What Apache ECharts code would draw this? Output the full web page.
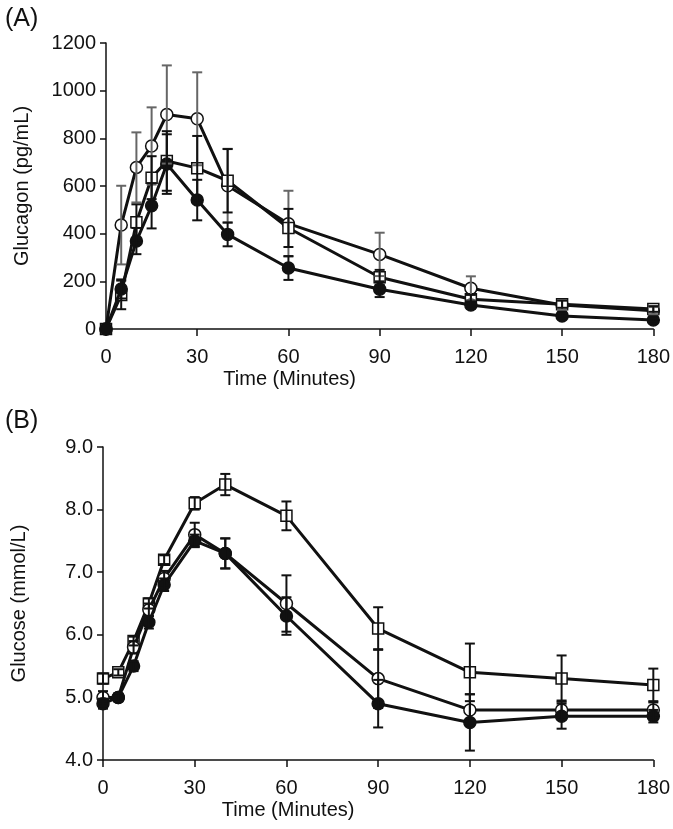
<!DOCTYPE html>
<html lang="en">
<head>
    <meta charset="UTF-8">
    <title>Glucagon and glucose</title>
    <script src="https://cdn.jsdelivr.net/npm/echarts@6/dist/echarts.min.js"></script>
    <style>
        html, body { margin: 0; padding: 0; background: #fff; }
    </style>
</head>
<body>
<div id="main" style="width: 673px;height:829px;"></div>
<script type="text/javascript">
    // time points (minutes)
    var minutes = [0, 5, 10, 15, 20, 30, 40, 60, 90, 120, 150, 180];

    // (A) glucagon, pg/mL
    var glucagonOpen = [0, 436, 678, 768, 900, 882, 601, 442, 313, 171, 101, 77];
    var glucagonOpenErr = [0, 165, 147, 162, 206, 195, 155, 138, 91, 50, 20, 15];
    var glucagonSquare = [0, 143, 448, 635, 705, 675, 622, 424, 217, 125, 104, 84];
    var glucagonSquareErr = [0, 60, 75, 90, 125, 135, 133, 80, 31, 18, 15, 12];
    var glucagonFilled = [0, 168, 369, 517, 692, 541, 397, 256, 167, 101, 55, 38];
    var glucagonFilledErr = [0, 40, 55, 95, 125, 85, 50, 50, 33, 15, 10, 8];

    // (B) glucose, mmol/L
    var glucoseOpen = [5.0, 5.0, 5.8, 6.4, 6.9, 7.6, 7.3, 6.5, 5.3, 4.8, 4.8, 4.8];
    var glucoseOpenErr = [0.1, 0.06, 0.1, 0.1, 0.12, 0.19, 0.24, 0.45, 0.47, 0.25, 0.15, 0.12];
    var glucoseSquare = [5.3, 5.4, 5.9, 6.5, 7.2, 8.1, 8.4, 7.9, 6.1, 5.4, 5.3, 5.2];
    var glucoseSquareErr = [0.08, 0.05, 0.07, 0.08, 0.07, 0.1, 0.17, 0.23, 0.34, 0.46, 0.37, 0.26];
    var glucoseFilled = [4.9, 5.0, 5.5, 6.2, 6.8, 7.5, 7.3, 6.3, 4.9, 4.6, 4.7, 4.7];
    var glucoseFilledErr = [0.08, 0.06, 0.08, 0.1, 0.1, 0.1, 0.24, 0.3, 0.38, 0.45, 0.2, 0.1];

    var font = 'Liberation Sans, Arial, sans-serif';
    var ink = '#111';

    function pairs(ys) {
        return minutes.map(function (t, i) { return [t, ys[i]]; });
    }

    function bars(ys, errs) {
        return minutes.map(function (t, i) { return [t, ys[i] - errs[i], ys[i] + errs[i]]; });
    }

    function lineSeries(ys, symbol, filled, idx, z) {
        return {
            type: 'line',
            xAxisIndex: idx,
            yAxisIndex: idx,
            data: pairs(ys),
            symbol: symbol,
            symbolSize: symbol === 'rect' ? 11 : 12,
            showAllSymbol: true,
            lineStyle: { color: ink, width: 3 },
            itemStyle: {
                color: filled ? ink : '#fff',
                borderColor: ink,
                borderWidth: 1.5
            },
            z: z,
            silent: true
        };
    }

    function errorSeries(ys, errs, idx, color) {
        return {
            type: 'custom',
            xAxisIndex: idx,
            yAxisIndex: idx,
            data: bars(ys, errs),
            encode: { x: 0, y: [1, 2] },
            z: 6,
            silent: true,
            renderItem: function (params, api) {
                var lo = api.coord([api.value(0), api.value(1)]);
                var hi = api.coord([api.value(0), api.value(2)]);
                var w = 5;
                var st = { stroke: color, lineWidth: 2 };
                return {
                    type: 'group',
                    children: [
                        { type: 'line', shape: { x1: hi[0], y1: hi[1], x2: lo[0], y2: lo[1] }, style: st },
                        { type: 'line', shape: { x1: hi[0] - w, y1: hi[1], x2: hi[0] + w, y2: hi[1] }, style: st },
                        { type: 'line', shape: { x1: lo[0] - w, y1: lo[1], x2: lo[0] + w, y2: lo[1] }, style: st }
                    ]
                };
            }
        };
    }

    function xAxis(idx) {
        return {
            type: 'value',
            gridIndex: idx,
            min: 0,
            max: 180,
            interval: 30,
            name: 'Time (Minutes)',
            nameLocation: 'middle',
            nameGap: 40,
            nameTextStyle: { fontFamily: font, fontSize: 20, color: ink, padding: [0, 180, 0, 0] },
            axisLine: { lineStyle: { color: ink, width: 1.5 } },
            axisTick: { inside: false, length: 7, lineStyle: { color: ink, width: 1.5 } },
            axisLabel: { fontFamily: font, fontSize: 20, color: ink, margin: 18 },
            splitLine: { show: false }
        };
    }

    function yAxis(idx, min, max, step, name, digits) {
        return {
            type: 'value',
            gridIndex: idx,
            min: min,
            max: max,
            interval: step,
            name: name,
            nameLocation: 'middle',
            nameGap: 74,
            nameTextStyle: { fontFamily: font, fontSize: 20, color: ink },
            axisLine: { show: true, lineStyle: { color: ink, width: 1.5 } },
            axisTick: { show: true, inside: false, length: 6, lineStyle: { color: ink, width: 1.5 } },
            axisLabel: {
                fontFamily: font, fontSize: 20, color: ink, margin: 10,
                formatter: function (v) { return v.toFixed(digits); }
            },
            splitLine: { show: false }
        };
    }

    var myChart = echarts.init(document.getElementById('main'));

    var option = {
        backgroundColor: '#fff',
        animation: false,
        title: [
            { text: '(A)', left: 0, top: 2, textStyle: { fontFamily: font, fontSize: 25, fontWeight: 'normal', color: ink } },
            { text: '(B)', left: 0, top: 404, textStyle: { fontFamily: font, fontSize: 25, fontWeight: 'normal', color: ink } }
        ],
        grid: [
            { left: 106, right: 18, top: 43, height: 286 },
            { left: 103, right: 19, top: 447, height: 313 }
        ],
        xAxis: [xAxis(0), xAxis(1)],
        yAxis: [
            yAxis(0, 0, 1200, 200, 'Glucagon (pg/mL)', 0),
            yAxis(1, 4, 9, 1, 'Glucose (mmol/L)', 1)
        ],
        series: [
            lineSeries(glucagonOpen, 'circle', false, 0, 3),
            lineSeries(glucagonSquare, 'rect', false, 0, 4),
            lineSeries(glucagonFilled, 'circle', true, 0, 5),
            errorSeries(glucagonOpen, glucagonOpenErr, 0, '#666'),
            errorSeries(glucagonSquare, glucagonSquareErr, 0, ink),
            errorSeries(glucagonFilled, glucagonFilledErr, 0, ink),

            lineSeries(glucoseSquare, 'rect', false, 1, 3),
            lineSeries(glucoseOpen, 'circle', false, 1, 4),
            lineSeries(glucoseFilled, 'circle', true, 1, 5),
            errorSeries(glucoseSquare, glucoseSquareErr, 1, ink),
            errorSeries(glucoseOpen, glucoseOpenErr, 1, ink),
            errorSeries(glucoseFilled, glucoseFilledErr, 1, ink)
        ]
    };

    myChart.setOption(option);
</script>
</body>
</html>
